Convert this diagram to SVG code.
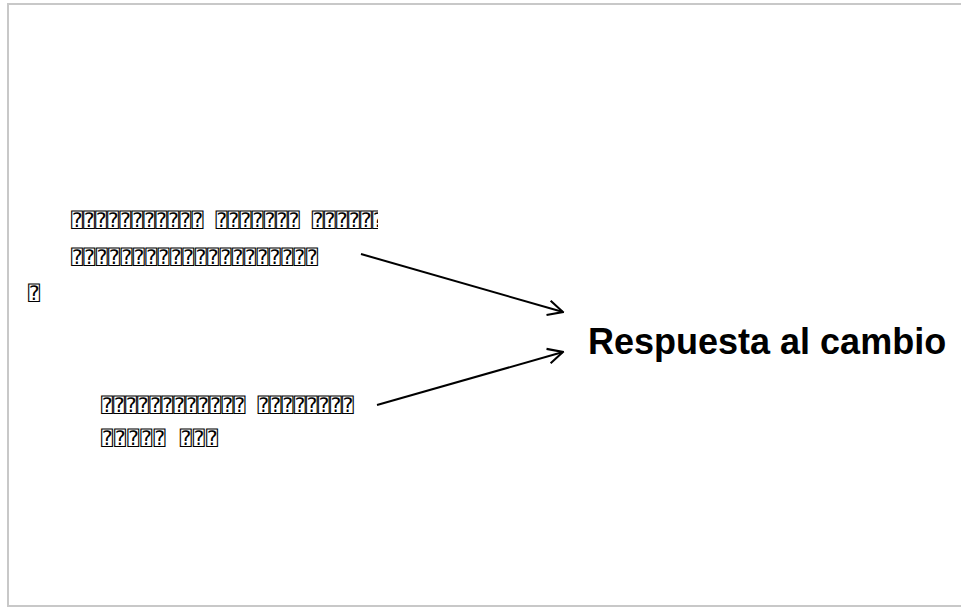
<svg xmlns="http://www.w3.org/2000/svg" width="961" height="608" viewBox="0 0 961 608">
  <style>
    .frame { fill: #ffffff; stroke: #c8c8c8; stroke-width: 2; }
    .tofu { font-family: "DejaVu Sans Mono", "DejaVu Sans", monospace; font-size: 20px; fill: #000000; }
    .title { font-family: "Liberation Sans", Arial, sans-serif; font-size: 36px; font-weight: bold; fill: #000000; }
    .link { fill: none; stroke: #000000; stroke-width: 2; }
  </style>
  <defs>
    <marker id="open-arrow" viewBox="0 0 12 12" refX="11" refY="6" markerWidth="18" markerHeight="18" markerUnits="userSpaceOnUse" orient="auto">
      <path d="M1,1 L11,6 L1,11" fill="none" stroke="#000000" stroke-width="1.4"/>
    </marker>
    <clipPath id="clip-top"><rect x="0" y="190" width="378" height="50"/></clipPath>
    <clipPath id="clip-bottom"><rect x="0" y="380" width="355" height="40"/></clipPath>
  </defs>

  <rect class="frame" x="8" y="4" width="962" height="602"/>

  <g id="cause-top">
    <text class="tofu" x="71" y="227" clip-path="url(#clip-top)">⍰⍰⍰⍰⍰⍰⍰⍰⍰⍰⍰ ⍰⍰⍰⍰⍰⍰⍰ ⍰⍰⍰⍰⍰⍰</text>
    <text class="tofu" x="71" y="264" textLength="247">⍰⍰⍰⍰⍰⍰⍰⍰⍰⍰⍰⍰⍰⍰⍰⍰⍰⍰⍰⍰</text>
  </g>

  <g id="marker-left">
    <text class="tofu" x="28" y="300">⍰</text>
  </g>

  <g id="cause-bottom">
    <text class="tofu" x="101" y="412" clip-path="url(#clip-bottom)">⍰⍰⍰⍰⍰⍰⍰⍰⍰⍰⍰⍰ ⍰⍰⍰⍰⍰⍰⍰⍰</text>
    <text class="tofu" x="101" y="445" textLength="117">⍰⍰⍰⍰⍰ ⍰⍰⍰</text>
  </g>

  <g id="response">
    <text class="title" x="588" y="354">Respuesta al cambio</text>
  </g>

  <g id="connectors">
    <line class="link" x1="361" y1="254" x2="563" y2="312" marker-end="url(#open-arrow)"/>
    <line class="link" x1="377" y1="405" x2="563" y2="352" marker-end="url(#open-arrow)"/>
  </g>
</svg>
